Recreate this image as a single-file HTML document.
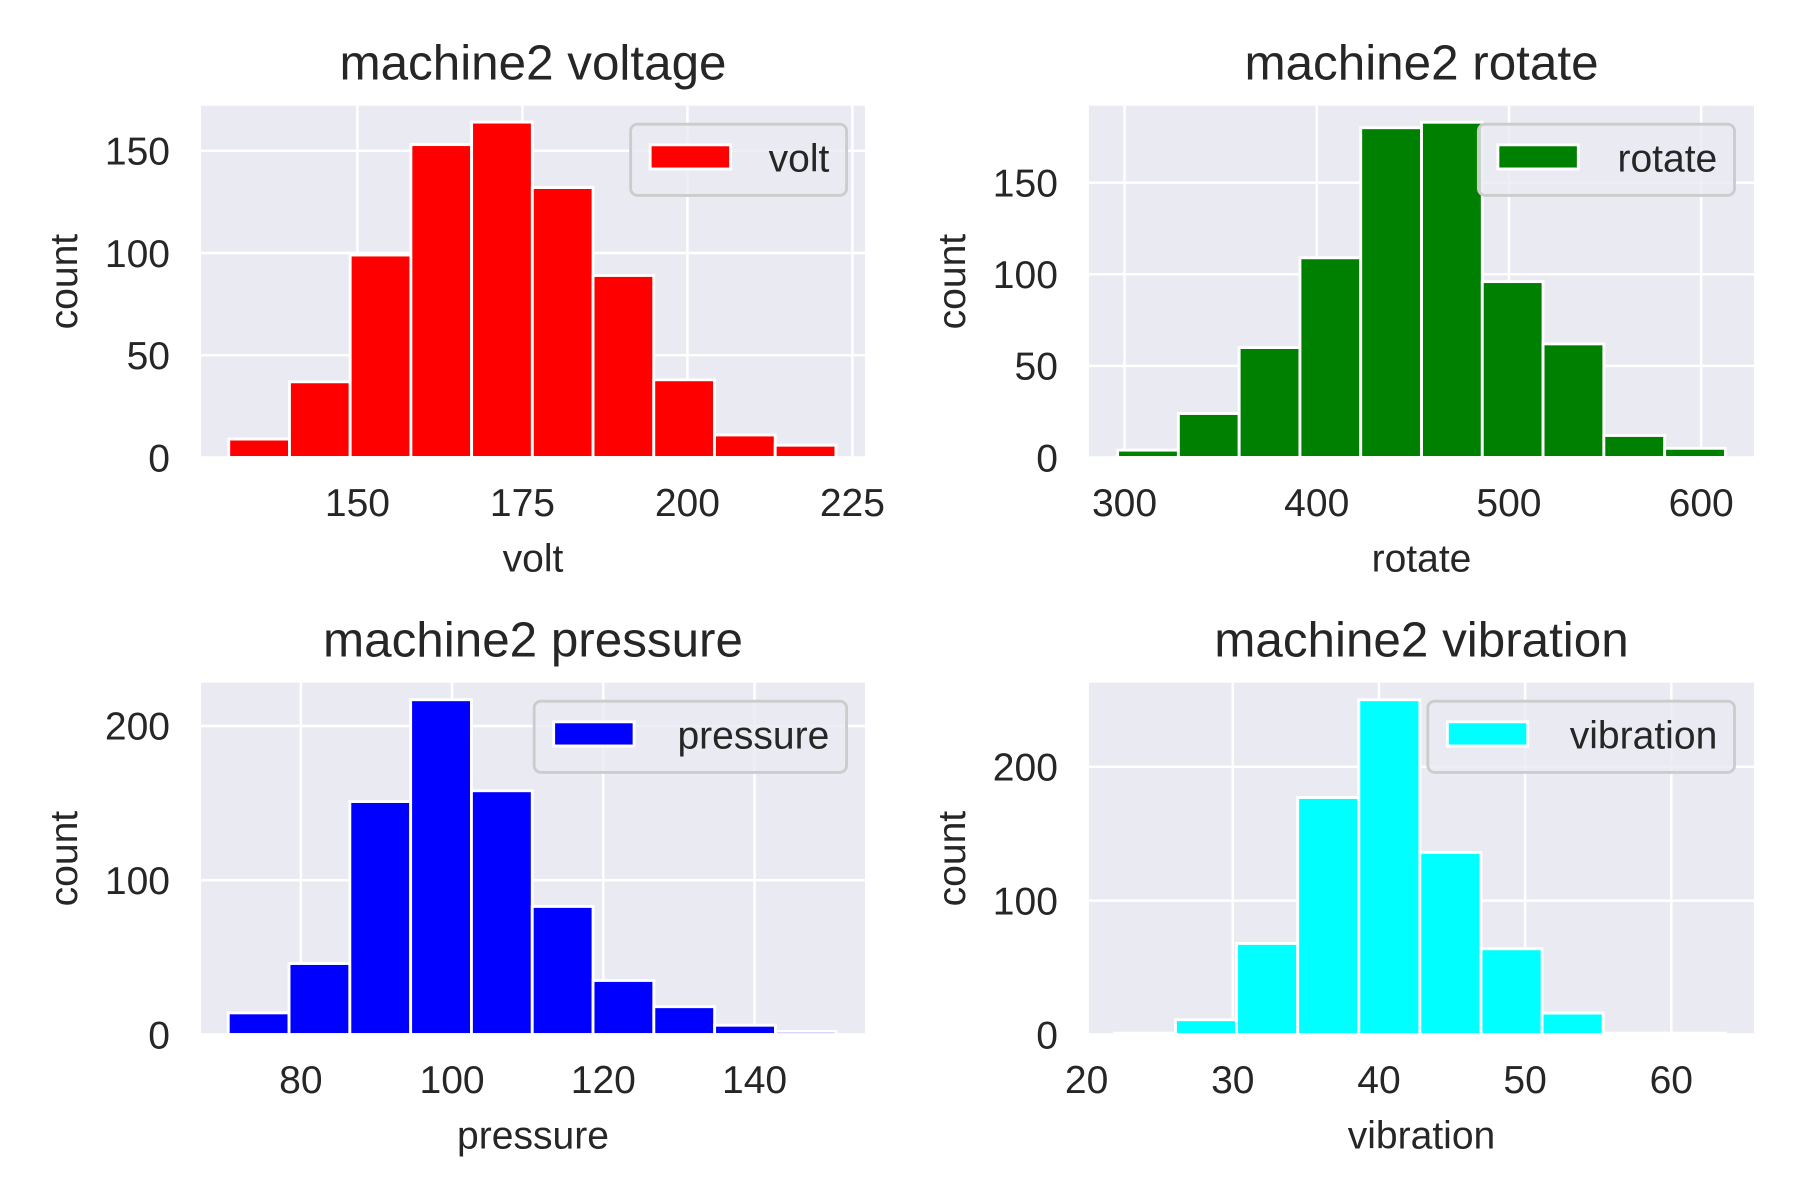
<!DOCTYPE html>
<html><head><meta charset="utf-8"><style>html,body{margin:0;padding:0;background:#fff}svg{display:block}</style></head>
<body>
<svg id="chart" width="1800" height="1200" viewBox="0 0 1567 1044" preserveAspectRatio="none" xmlns="http://www.w3.org/2000/svg" font-family="Liberation Sans, Arial, sans-serif"></svg>
<script>
// ---- data ----
const voltCounts = [9, 37, 99, 153, 164, 132, 89, 38, 11, 6];
const voltEdges = [130.5, 222.5];
const voltXTicks = [150, 175, 200, 225];
const voltYTicks = [0, 50, 100, 150];

const rotateCounts = [4, 24, 60, 109, 180, 183, 96, 62, 12, 5];
const rotateEdges = [296.4, 612.6];
const rotateXTicks = [300, 400, 500, 600];
const rotateYTicks = [0, 50, 100, 150];

const pressureCounts = [14, 46, 151, 217, 158, 83, 35, 18, 6, 2];
const pressureEdges = [70.4, 150.8];
const pressureXTicks = [80, 100, 120, 140];
const pressureYTicks = [0, 100, 200];

const vibrationCounts = [1, 11, 68, 177, 250, 136, 64, 16, 1, 1];
const vibrationEdges = [21.9, 63.7];
const vibrationXTicks = [20, 30, 40, 50, 60];
const vibrationYTicks = [0, 100, 200];

const NS = "http://www.w3.org/2000/svg";
const svg = document.getElementById('chart');
function mk(tag, attrs, parent, text) {
  const e = document.createElementNS(NS, tag);
  for (const k in attrs) e.setAttribute(k, attrs[k]);
  if (text !== undefined) e.textContent = text;
  (parent || svg).appendChild(e);
  return e;
}

function panel(cfg) {
  const {name, title, xlabel, counts, edges, xticks, yticks, color, box, xlim, ymax, legendX, legendW} = cfg;
  const g = mk('g', {});
  
  
  const [L, T, R, B] = box;
  const sx = v => L + (v - xlim[0]) / (xlim[1] - xlim[0]) * (R - L);
  const sy = v => B - v / ymax * (B - T);
  const bg = mk('rect', {x: L, y: T, width: R - L, height: B - T, fill: '#eaeaf2'}, g);
  
  
  xticks.forEach(t => {
    const ln = mk('line', {x1: sx(t), x2: sx(t), y1: T, y2: B, stroke: '#fff', 'stroke-width': 2.2}, g);
    
    
    const tx = mk('text', {x: sx(t), y: B + 51, 'text-anchor': 'middle', 'font-size': 34, fill: '#262626'}, g, String(t));
    
    
  });
  yticks.forEach(t => {
    const ln = mk('line', {x1: L, x2: R, y1: sy(t), y2: sy(t), stroke: '#fff', 'stroke-width': 2.2}, g);
    
    
    const tx = mk('text', {x: L - 27, y: sy(t) + 12, 'text-anchor': 'end', 'font-size': 34, fill: '#262626'}, g, String(t));
    
    
  });
  const n = counts.length, w = (edges[1] - edges[0]) / n;
  counts.forEach((c, i) => {
    const x0 = sx(edges[0] + i * w), x1 = sx(edges[0] + (i + 1) * w);
    const r = mk('rect', {x: x0, y: sy(c), width: x1 - x0, height: sy(0) - sy(c), fill: color, stroke: '#fff', 'stroke-width': 2.5}, g);
    
    
  });
  const tt = mk('text', {x: (L + R) / 2, y: T - 23, 'text-anchor': 'middle', 'font-size': 43, fill: '#262626'}, g, title);
  
  
  const xl = mk('text', {x: (L + R) / 2, y: B + 99, 'text-anchor': 'middle', 'font-size': 34, fill: '#262626'}, g, xlabel);
  
  
  const cy = (T + B) / 2;
  const yl = mk('text', {x: L - 108, y: cy, 'text-anchor': 'middle', 'font-size': 34, fill: '#262626', transform: `rotate(-90 ${L - 108} ${cy})`}, g, 'count');
  
  
  const lg = mk('g', {}, g);
  
  
  mk('rect', {x: legendX, y: T + 16, width: legendW, height: 62, rx: 6, fill: '#eaeaf2', stroke: '#cccccc', 'stroke-width': 2.5, 'fill-opacity': 0.8}, lg);
  const sw = mk('rect', {x: legendX + 17, y: T + 34, width: 70, height: 21, fill: color, stroke: '#fff', 'stroke-width': 2.5}, lg);
  
  
  const lt = mk('text', {x: legendX + legendW - 15, y: T + 57, 'text-anchor': 'end', 'font-size': 34, fill: '#262626'}, lg, xlabel);
  
  
}

panel({name: 'volt', title: 'machine2 voltage', xlabel: 'volt', counts: voltCounts, edges: voltEdges, xticks: voltXTicks, yticks: voltYTicks, color: '#ff0000', box: [175, 92, 753, 398], xlim: [126.3, 226.9], ymax: 172, legendX: 549, legendW: 188});
panel({name: 'rotate', title: 'machine2 rotate', xlabel: 'rotate', counts: rotateCounts, edges: rotateEdges, xticks: rotateXTicks, yticks: rotateYTicks, color: '#008000', box: [948, 92, 1527, 398], xlim: [281.5, 627.5], ymax: 192, legendX: 1287, legendW: 223});
panel({name: 'pressure', title: 'machine2 pressure', xlabel: 'pressure', counts: pressureCounts, edges: pressureEdges, xticks: pressureXTicks, yticks: pressureYTicks, color: '#0000ff', box: [175, 594, 753, 900], xlim: [66.8, 154.6], ymax: 228, legendX: 465, legendW: 272});
panel({name: 'vibration', title: 'machine2 vibration', xlabel: 'vibration', counts: vibrationCounts, edges: vibrationEdges, xticks: vibrationXTicks, yticks: vibrationYTicks, color: '#00ffff', box: [948, 594, 1527, 900], xlim: [20.16, 65.66], ymax: 262.7, legendX: 1243, legendW: 267});
</script>
</body></html>
